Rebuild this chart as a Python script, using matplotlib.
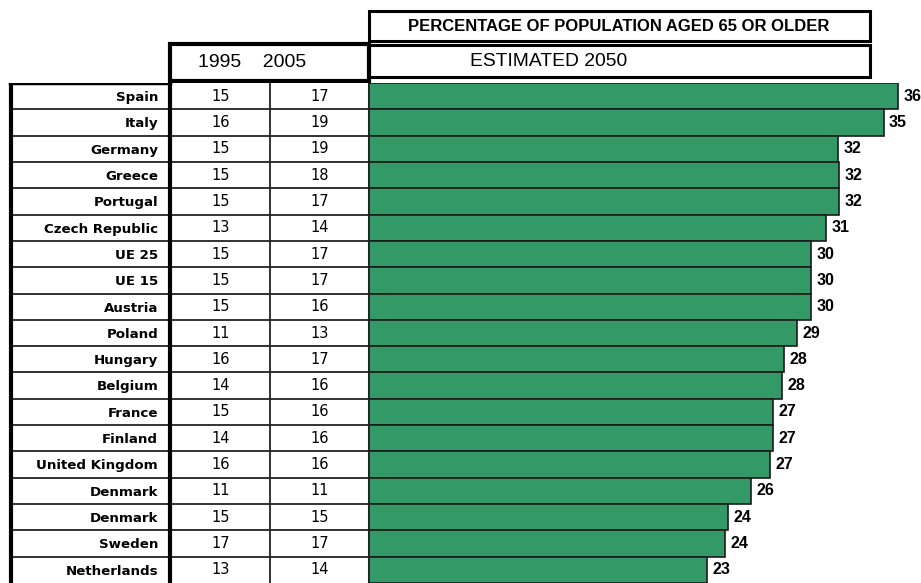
import matplotlib.pyplot as plt
from matplotlib.patches import Rectangle

# dane
countries = ['Spain', 'Italy', 'Germany', 'Greece', 'Portugal', 'Czech Republic',
             'UE 25', 'UE 15', 'Austria', 'Poland', 'Hungary', 'Belgium', 'France',
             'Finland', 'United Kingdom', 'Denmark', 'Denmark', 'Sweden', 'Netherlands']
pct_1995 = [15, 16, 15, 15, 15, 13, 15, 15, 15, 11, 16, 14, 15, 14, 16, 11, 15, 17, 13]
pct_2005 = [17, 19, 19, 18, 17, 14, 17, 17, 16, 13, 17, 16, 16, 16, 16, 11, 15, 17, 14]
est_2050 = [36.0, 35.0, 31.9, 32.0, 32.0, 31.1, 30.1, 30.1, 30.1, 29.1, 28.2, 28.1,
            27.5, 27.5, 27.3, 26.0, 24.4, 24.2, 23.0]
labels_2050 = ['36', '35', '32', '32', '32', '31', '30', '30', '30', '29', '28', '28',
               '27', '27', '27', '26', '24', '24', '23']

title = 'PERCENTAGE OF POPULATION AGED 65 OR OLDER'
years_head = '1995    2005'
est_head = 'ESTIMATED 2050'

W, H = 921, 583
TOP = 83
n = len(countries)
green = '#339966'

fig = plt.figure(figsize=(W / 100, H / 100), dpi=100)

# wykres slupkowy
ax = fig.add_axes([369 / W, 0, (W - 369) / W, (H - TOP) / H])
ax.barh(range(n), est_2050, height=1.0, left=0, color=green,
        edgecolor='#1a1a1a', linewidth=1.2, align='center')
for i, (v, lab) in enumerate(zip(est_2050, labels_2050)):
    ax.annotate(lab, (v, i), xytext=(4, 0), textcoords='offset points',
                ha='left', va='center', fontsize=11.5, fontweight='bold',
                family='Liberation Sans')
ax.set_xlim(0, (W - 369) / 14.7)
ax.set_ylim(n - 0.5, -0.5)
ax.axis('off')

# tabela po lewej (os x w pikselach)
tab = fig.add_axes([0, 0, 369 / W, (H - TOP) / H])
tab.set_xlim(0, 369)
tab.set_ylim(n, 0)
tab.axis('off')
for i in range(n):
    tab.text(158, i + 0.55, countries[i], ha='right', va='center', fontsize=9.6,
             fontweight='bold', family='DejaVu Sans')
    tab.text(221, i + 0.5, str(pct_1995[i]), ha='center', va='center', fontsize=10.5,
             family='DejaVu Sans')
    tab.text(320, i + 0.5, str(pct_2005[i]), ha='center', va='center', fontsize=10.5,
             family='DejaVu Sans')
    if i > 0:
        tab.plot([11, 369], [i, i], color='#222222', lw=1.3)
tab.plot([11, 11], [0, n], color='black', lw=3)
tab.plot([169.5, 169.5], [0, n], color='black', lw=3)
tab.plot([270, 270], [0, n], color='#222222', lw=1.3)
tab.plot([368.5, 368.5], [0, n], color='#222222', lw=1.5)
tab.plot([10, 170], [0, 0], color='black', lw=2.5)

# naglowki (os w pikselach)
hd = fig.add_axes([0, (H - TOP) / H, 1, TOP / H])
hd.set_xlim(0, W)
hd.set_ylim(TOP, 0)
hd.axis('off')
hd.add_patch(Rectangle((369, 11), 501, 30, fill=False, lw=2.2, ec='black'))
hd.add_patch(Rectangle((369, 45), 501, 32, fill=False, lw=2.2, ec='black'))
hd.add_patch(Rectangle((170, 44), 199, 37, fill=False, lw=3, ec='black'))
hd.text(619, 26.5, title, ha='center', va='center', fontsize=12,
        fontweight='bold', family='Liberation Sans')
hd.text(470, 61.5, est_head, ha='left', va='center', fontsize=13.9,
        family='Liberation Sans')
hd.text(198, 62.5, years_head, ha='left', va='center', fontsize=14,
        family='Liberation Sans')

fig.savefig('out.png', dpi=100)
